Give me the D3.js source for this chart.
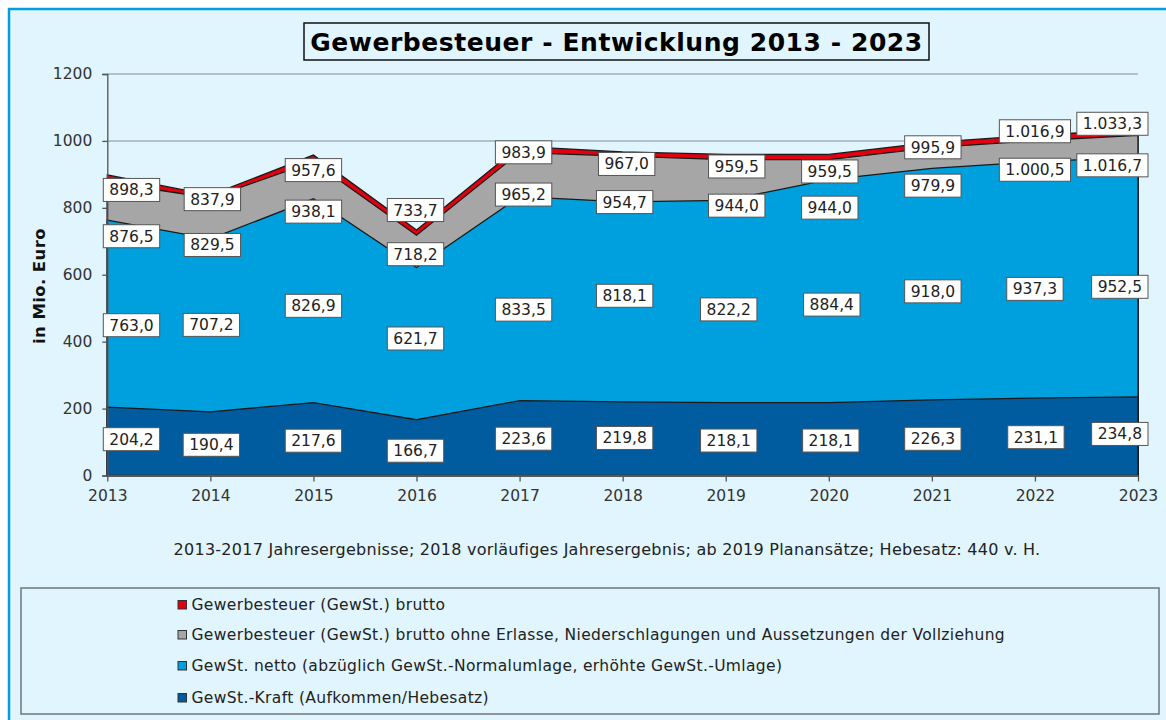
<!DOCTYPE html>
<html>
<head>
<meta charset="utf-8">
<script src="https://cdn.jsdelivr.net/npm/d3@7"></script>
<style>
  html, body { margin: 0; padding: 0; background: #ffffff; }
  svg { display: block; }
  text { font-family: "DejaVu Sans", Verdana, sans-serif; }
</style>
</head>
<body>
<svg id="chart" width="1166" height="720"></svg>
<script>
// ---------- data ----------
const years = [2013, 2014, 2015, 2016, 2017, 2018, 2019, 2020, 2021, 2022, 2023];
const brutto = [898.3, 837.9, 957.6, 733.7, 983.9, 967.0, 959.5, 959.5, 995.9, 1016.9, 1033.3];
const bruttoOhne = [876.5, 829.5, 938.1, 718.2, 965.2, 954.7, 944.0, 944.0, 979.9, 1000.5, 1016.7];
const netto = [763.0, 707.2, 826.9, 621.7, 833.5, 818.1, 822.2, 884.4, 918.0, 937.3, 952.5];
const kraft = [204.2, 190.4, 217.6, 166.7, 223.6, 219.8, 218.1, 218.1, 226.3, 231.1, 234.8];
const yTicks = [0, 200, 400, 600, 800, 1000, 1200];
const seriesNames = [
  "Gewerbesteuer (GewSt.) brutto",
  "Gewerbesteuer (GewSt.) brutto ohne Erlasse, Niederschlagungen und Aussetzungen der Vollziehung",
  "GewSt. netto (abzüglich GewSt.-Normalumlage, erhöhte GewSt.-Umlage)",
  "GewSt.-Kraft (Aufkommen/Hebesatz)"
];
const titleText = "Gewerbesteuer - Entwicklung 2013 - 2023";
const yAxisTitle = "in Mio. Euro";
const footnote = "2013-2017 Jahresergebnisse; 2018 vorläufiges Jahresergebnis; ab 2019 Planansätze; Hebesatz: 440 v. H.";

// ---------- layout (label nudges, in px, relative to each value point) ----------
const labelDy = [
  [15, 4, 15, -20, 6, 12, 12, 17, 5, -4, -6],
  [54, 47, 50, 19, 42, 46, 46, 48, 38, 29, 30],
  [105, 86, 107, 71, 113, 94, 109, 125, 123, 127, 130],
  [32, 33, 38, 31, 38, 36, 38, 38, 39, 39, 37]
];
const labelDx = [
  [0, 2, 0, -1, 4, 4, 11, 1, 1, 0, 0],
  [0, 2, 0, -1, 4, 2, 11, 1, 1, 0, 0],
  [0, 1, 0, -1, 4, 2, 3, 3, 1, 0, 0],
  [0, 1, 0, -1, 4, 2, 3, 2, 1, 1, 0]
];
const colors = ["#e3000f", "#a6a6a6", "#00a0df", "#005c9e"];

// ---------- drawing ----------
const svg = d3.select("#chart");
const bg = "#e0f5fe";

svg.append("rect").attr("x", 9).attr("y", 9).attr("width", 1175).attr("height", 730)
  .attr("fill", bg).attr("stroke", "#00a0e0").attr("stroke-width", 2.5);

const x = d3.scalePoint().domain(years).range([107.3, 1138]);
const y = d3.scaleLinear().domain([0, 1200]).range([475.5, 74]);

// gridlines
svg.append("g").selectAll("line").data(yTicks.filter(d => d > 0)).join("line")
  .attr("x1", x.range()[0]).attr("x2", x.range()[1])
  .attr("y1", d => y(d)).attr("y2", d => y(d))
  .attr("stroke", "#a3b1b9").attr("stroke-width", 1.5);

// areas
const series = [brutto, bruttoOhne, netto, kraft];
const area = d3.area()
  .x((d, i) => x(years[i]))
  .y0(y(0))
  .y1(d => y(d));
svg.append("g").selectAll("path").data(series).join("path")
  .attr("d", d => area(d))
  .attr("fill", (d, i) => colors[i])
  .attr("stroke", "#1a1a1a")
  .attr("stroke-width", 1.3)
  .attr("stroke-linejoin", "miter");

// axes
const yAxis = d3.axisLeft(y).tickValues(yTicks).tickSize(5).tickPadding(10).tickFormat(d3.format("d"));
const gy = svg.append("g").attr("transform", `translate(${x.range()[0]},0)`).call(yAxis);
const xAxis = d3.axisBottom(x).tickSize(6).tickPadding(8).tickFormat(d3.format("d"));
const gx = svg.append("g").attr("transform", `translate(0,${y(0)})`).call(xAxis);
[gy, gx].forEach(g => {
  g.select(".domain").attr("stroke", "#555").attr("stroke-width", 1.3);
  g.selectAll(".tick line").attr("stroke", "#555").attr("stroke-width", 1.3);
  g.selectAll(".tick text").attr("fill", "#333").style("font-size", "15.5px")
    .style("font-family", "'DejaVu Sans', Verdana, sans-serif");
});
gx.select(".domain").attr("d", `M${x.range()[0]},0H${x.range()[1]}`);

// y axis title
svg.append("text")
  .attr("transform", "translate(39,286) rotate(-90)")
  .attr("text-anchor", "middle").attr("dominant-baseline", "central")
  .style("font-size", "16.5px").style("font-weight", "bold").style("letter-spacing", "0.4px")
  .attr("fill", "#111")
  .text(yAxisTitle);

// data labels
const de = d3.formatLocale({ decimal: ",", thousands: ".", grouping: [3], currency: ["", " €"] });
const fmt = de.format(",.1f");
const labelLayer = svg.append("g");
series.forEach((vals, si) => {
  vals.forEach((v, i) => {
    const g = labelLayer.append("g");
    const t = g.append("text").text(fmt(v))
      .style("font-size", "15.5px").attr("fill", "#222")
      .attr("text-anchor", "middle").attr("dominant-baseline", "central");
    const tw = t.node().getComputedTextLength();
    const bw = tw + 12, bh = 23;
    let cx = x(years[i]) + labelDx[si][i];
    const minL = x.range()[0] - 4, maxR = x.range()[1] + 10;
    if (cx - bw / 2 < minL) cx = minL + bw / 2;
    if (cx + bw / 2 > maxR) cx = maxR - bw / 2;
    const cy = y(v) + labelDy[si][i];
    g.insert("rect", "text")
      .attr("x", cx - bw / 2).attr("y", cy - bh / 2)
      .attr("width", bw).attr("height", bh)
      .attr("fill", "#ffffff").attr("stroke", "#555").attr("stroke-width", 1);
    t.attr("x", cx).attr("y", cy + 0.5);
  });
});

// title
svg.append("rect").attr("x", 304).attr("y", 23).attr("width", 625).attr("height", 37)
  .attr("fill", bg).attr("stroke", "#111").attr("stroke-width", 1.5);
svg.append("text").attr("x", 616.5).attr("y", 42).attr("text-anchor", "middle")
  .attr("dominant-baseline", "central")
  .style("font-size", "25px").style("font-weight", "bold").style("letter-spacing", "0.55px")
  .attr("fill", "#000")
  .text(titleText);

// footnote
svg.append("text").attr("x", 607).attr("y", 549).attr("text-anchor", "middle")
  .attr("dominant-baseline", "central")
  .style("font-size", "16px").style("letter-spacing", "0.25px").attr("fill", "#222")
  .text(footnote);

// legend
svg.append("rect").attr("x", 21).attr("y", 588).attr("width", 1138).attr("height", 126)
  .attr("fill", bg).attr("stroke", "#6f767a").attr("stroke-width", 1.5);
const legRows = [605, 635, 666, 698];
const leg = svg.append("g").selectAll("g").data(seriesNames).join("g")
  .attr("transform", (d, i) => `translate(178,${legRows[i]})`);
leg.append("rect").attr("x", 0).attr("y", -4.5).attr("width", 8.5).attr("height", 8.5)
  .attr("fill", (d, i) => colors[i]).attr("stroke", "#333").attr("stroke-width", 1);
leg.append("text").attr("x", 13.5).attr("y", 0).attr("dominant-baseline", "central")
  .style("font-size", "15.5px").style("letter-spacing", "0.35px").attr("fill", "#222")
  .text(d => d);
</script>
</body>
</html>
